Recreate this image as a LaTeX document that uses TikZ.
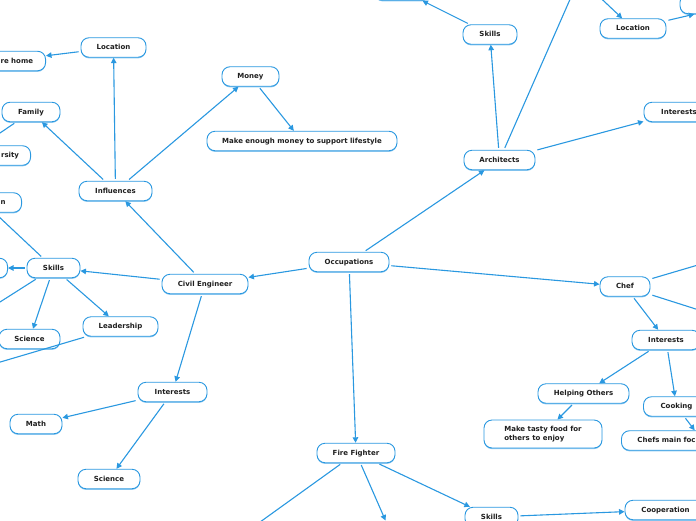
\documentclass[tikz,border=0pt]{standalone}
\usepackage{fontspec}
\setmainfont{DejaVu Sans}
\usetikzlibrary{arrows.meta,shadows}
\definecolor{lnblue}{HTML}{2A98E0}
\definecolor{shblue}{HTML}{8CC8F0}
\begin{document}
\begin{tikzpicture}[x=1pt,y=-1pt,
  box/.style={draw=lnblue, line width=0.9pt, fill=white, rounded corners=8pt,
    minimum height=19.5pt, inner xsep=0pt, inner ysep=0pt,
    text height=5.1pt, text depth=1.1pt,
    font=\fontsize{7}{8.5}\selectfont\bfseries, text=black!88,
    drop shadow={shadow xshift=0pt, shadow yshift=-1.1pt, fill=shblue, opacity=1}},
  rtext/.style={align=right, inner xsep=12.5pt},
  ltext/.style={align=left, inner xsep=16pt},
  conn/.style={draw=lnblue, line width=1.1pt, -{Triangle[length=5.5pt,width=5.5pt]}, shorten <=2pt}]
\useasboundingbox (0,0) rectangle (696,520);
\clip (0,0) rectangle (696,520);
% nodes
\node[box, minimum width=80pt] (occ) at (349,262) {Occupations};
\node[box, minimum width=86pt] (civ) at (205,284) {Civil Engineer};
\node[box, minimum width=73pt] (infl) at (115.5,191) {Influences};
\node[box, minimum width=65pt] (locL) at (113.5,47.5) {Location};
\node[box, rtext, text width=60pt, anchor=east] (home) at (46,61) {re home};
\node[box, minimum width=58pt] (fam) at (31,112) {Family};
\node[box, rtext, inner xsep=11.5pt, text width=50pt, anchor=east] (univ) at (31,155.5) {rsity};
\node[box, rtext, inner xsep=16pt, text width=50pt, anchor=east] (comm) at (22,202.5) {n};
\node[box, minimum width=57pt] (money) at (250.5,76.5) {Money};
\node[box, minimum width=190pt] (enough) at (302,141) {Make enough money to support lifestyle};
\node[box, minimum width=53pt] (skL) at (53.5,268) {Skills};
\node[box, minimum width=50pt, anchor=east] (skLeft) at (8,268) {};
\node[box, minimum width=61pt] (sciL) at (29.5,339) {Science};
\node[box, minimum width=75pt] (lead) at (120.5,326.5) {Leadership};
\node[box, minimum width=69pt] (intL) at (172.5,392) {Interests};
\node[box, minimum width=52pt] (math) at (36,424) {Math};
\node[box, minimum width=62pt] (sciB) at (109,479) {Science};
\node[box, minimum width=71pt] (arch) at (499.5,160) {Architects};
\node[box, minimum width=54pt] (skT) at (490,34.5) {Skills};
\node[box, minimum width=55pt] (topL) at (402,-9.5) {};
\node[box, minimum width=66pt] (locR) at (633,28.5) {Location};
\node[box, minimum width=116pt] (topR) at (738,4) {};
\node[box, minimum width=70pt] (intR) at (679,112) {Interests};
\node[box, minimum width=50pt] (chef) at (625,286.5) {Chef};
\node[box, minimum width=68pt] (intC) at (666,340) {Interests};
\node[box, minimum width=91pt] (help) at (583.5,393.5) {Helping Others};
\node[box, minimum width=118pt, minimum height=28pt, align=left, text height=, text depth=] (tasty) at (543,434) {Make tasty food for\\others to enjoy};
\node[box, minimum width=66pt] (cook) at (676.5,406.5) {Cooking};
\node[box, ltext, text width=130pt, anchor=west] (focus) at (621,440.5) {Chefs main foc};
\node[box, minimum width=78pt] (fire) at (356,453) {Fire Fighter};
\node[box, minimum width=53pt] (skB) at (491.5,517) {Skills};
\node[box, minimum width=81pt] (coop) at (665.5,510) {Cooperation};
% free ends off the canvas
\coordinate (famOff) at (-20,146.5);
\coordinate (skOffUp) at (-20,199);
\coordinate (skOffDown) at (-20,314.7);
\coordinate (leadOff) at (-20,368);
\coordinate (archOff) at (575,-12);
\coordinate (locROff) at (590,-12);
\coordinate (chefOffUp) at (720,258.5);
\coordinate (chefOffDown) at (720,316.7);
\coordinate (fireOffLeft) at (242,535);
\coordinate (fireOffDown) at (385.5,520.5);
% connectors
\draw[conn] (occ) -- (civ);
\draw[conn] (occ) -- (arch);
\draw[conn] (occ) -- (chef);
\draw[conn] (occ) -- (fire);
\draw[conn] (civ) -- (skL);
\draw[conn] (civ) -- (infl);
\draw[conn] (civ) -- (intL);
\draw[conn] (infl) -- (locL);
\draw[conn] (infl) -- (fam);
\draw[conn] (infl) -- (money);
\draw[conn] (locL) -- (home);
\draw[conn] (money) -- (enough);
\draw[conn] (fam) -- (famOff);
\draw[conn] (skL) -- (skLeft);
\draw[conn] (skL) -- (skOffUp);
\draw[conn] (skL) -- (skOffDown);
\draw[conn] (skL) -- (sciL);
\draw[conn] (skL) -- (lead);
\draw[conn] (lead) -- (leadOff);
\draw[conn] (intL) -- (math);
\draw[conn] (intL) -- (sciB);
\draw[conn] (arch) -- (skT);
\draw[conn] (arch) -- (archOff);
\draw[conn] (arch) -- (intR);
\draw[conn] (skT) -- (topL);
\draw[conn] (locROff) -- (locR);
\draw[conn] (locR) -- (topR);
\draw[conn] (chef) -- (chefOffUp);
\draw[conn] (chef) -- (chefOffDown);
\draw[conn] (chef) -- (intC);
\draw[conn] (intC) -- (help);
\draw[conn] (intC) -- (cook);
\draw[conn] (help) -- (tasty);
\draw[conn] (cook) -- (focus);
\draw[conn] (fire) -- (fireOffLeft);
\draw[conn] (fire) -- (fireOffDown);
\draw[conn] (fire) -- (skB);
\draw[conn] (skB) -- (coop);
\end{tikzpicture}
\end{document}
